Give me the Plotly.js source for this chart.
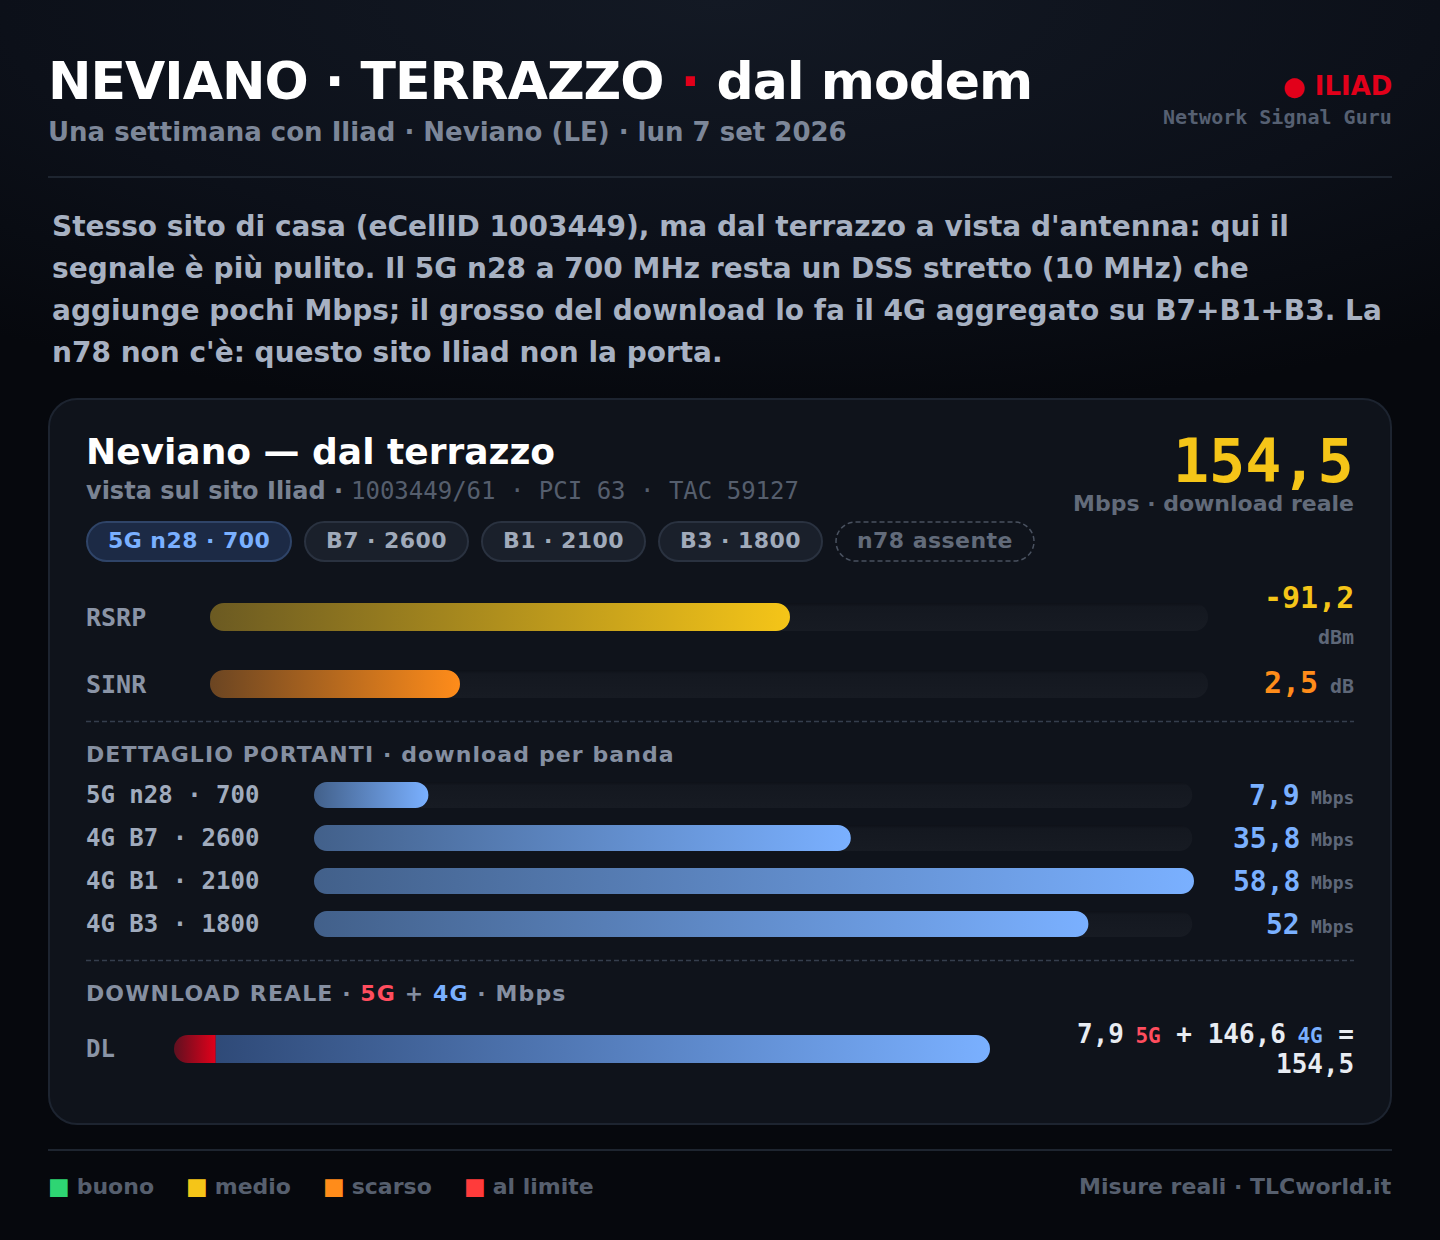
<!DOCTYPE html>
<html lang="it">
<head>
<meta charset="utf-8">
<title>Neviano terrazzo</title>
<script src="https://cdn.plot.ly/plotly-3.0.1.min.js"></script>
<style>
  html, body { margin: 0; padding: 0; }
  body {
    width: 1440px; height: 1240px; overflow: hidden;
    background: radial-gradient(1200px 420px at 50% 0, #131924 0%, #0c1019 60%, #06080d 100%) #06080d;
  }
  #chart { width: 1440px; height: 1240px; }
</style>
</head>
<body>
<div id="chart"></div>
<script>
// values
var signalNames = ['RSRP', 'SINR'];
var signalFill = [58, 25];
var signalValues = [-91.2, 2.5];
var signalUnits = ['dBm', 'dB'];

var carrierNames = ['5G n28 · 700', '4G B7 · 2600', '4G B1 · 2100', '4G B3 · 1800'];
var carrierFill = [13, 61, 100, 88];
var carrierMbps = [7.9, 35.8, 58.8, 52];

var dl5G = 7.9;
var dl4G = 146.6;
var dlTotal = 154.5;

var pills = ['5G n28 · 700', 'B7 · 2600', 'B1 · 2100', 'B3 · 1800', 'n78 assente'];
var paragraph = [
  "Stesso sito di casa (eCellID 1003449), ma dal terrazzo a vista d'antenna: qui il",
  "segnale è più pulito. Il 5G n28 a 700 MHz resta un DSS stretto (10 MHz) che",
  "aggiunge pochi Mbps; il grosso del download lo fa il 4G aggregato su B7+B1+B3. La",
  "n78 non c'è: questo sito Iliad non la porta."
];
var legendNames = ['buono', 'medio', 'scarso', 'al limite'];
var legendColors = ['#2ed573', '#f5c518', '#ff8c1a', '#ff3b3b'];

var W = 1440, H = 1240;
var SANS = '"DejaVu Sans", sans-serif', MONO = '"DejaVu Sans Mono", monospace';
var num = function (v) { return String(v).replace('.', ','); };
var xDom = function (a, b) { return [a / W, b / W]; };
var yDom = function (t, b) { return [1 - b / H, 1 - t / H]; };

function txt(x, y, text, size, color, o) {
  o = o || {};
  return {
    xref: 'paper', yref: 'paper', x: (x + (o.right ? 1 : -1)) / W, y: 1 - y / H, text: text, showarrow: false,
    xanchor: o.right ? 'right' : 'left', yanchor: 'middle', align: o.right ? 'right' : 'left', borderpad: 0,
    font: { family: o.mono ? MONO : SANS, size: size, color: color, weight: o.normal ? 400 : 700 }
  };
}

// rounded box as a paper-space shape
function box(x0, y0, x1, y1, r, fill, line, lw, dash) {
  var k = r * 0.45, X = function (v) { return (v / W).toFixed(5); }, Y = function (v) { return (1 - v / H).toFixed(5); };
  var p = 'M' + X(x0 + r) + ',' + Y(y0) + ' L' + X(x1 - r) + ',' + Y(y0) +
    ' C' + X(x1 - k) + ',' + Y(y0) + ' ' + X(x1) + ',' + Y(y0 + k) + ' ' + X(x1) + ',' + Y(y0 + r) +
    ' L' + X(x1) + ',' + Y(y1 - r) +
    ' C' + X(x1) + ',' + Y(y1 - k) + ' ' + X(x1 - k) + ',' + Y(y1) + ' ' + X(x1 - r) + ',' + Y(y1) +
    ' L' + X(x0 + r) + ',' + Y(y1) +
    ' C' + X(x0 + k) + ',' + Y(y1) + ' ' + X(x0) + ',' + Y(y1 - k) + ' ' + X(x0) + ',' + Y(y1 - r) +
    ' L' + X(x0) + ',' + Y(y0 + r) +
    ' C' + X(x0) + ',' + Y(y0 + k) + ' ' + X(x0 + k) + ',' + Y(y0) + ' ' + X(x0 + r) + ',' + Y(y0) + ' Z';
  return { type: 'path', xref: 'paper', yref: 'paper', path: p, fillcolor: fill, layer: 'below',
    line: { color: line, width: lw, dash: dash || 'solid' } };
}
function rule(x0, x1, y, color, lw, dash) {
  return { type: 'line', xref: 'paper', yref: 'paper', x0: x0 / W, x1: x1 / W, y0: 1 - y / H, y1: 1 - y / H,
    layer: 'below', line: { color: color, width: lw, dash: dash || 'solid' } };
}

function hbar(x, y, xa, ya, width, grad, base) {
  var t = { type: 'bar', orientation: 'h', x: x, y: y, xaxis: xa, yaxis: ya, width: width, hoverinfo: 'skip',
    marker: { color: '#161a22', line: { width: 0 } }, meta: grad };
  if (base !== undefined) t.base = base;
  return t;
}

// the empty rail stops just short of the full scale
var rail = function (a) { return a.map(function () { return 99.8; }); };
var data = [
  hbar(rail(signalNames), signalNames, 'x', 'y', 0.418, 'gTrack'),
  hbar(signalFill, signalNames, 'x', 'y', 0.418, ['gRsrp', 'gSinr']),
  hbar(rail(carrierNames), carrierNames, 'x2', 'y2', 0.605, 'gTrack'),
  hbar(carrierFill, carrierNames, 'x2', 'y2', 0.605, 'gBlue'),
  hbar([dl5G], ['DL'], 'x3', 'y3', 1, 'g5G'),
  hbar([dl4G], ['DL'], 'x3', 'y3', 1, 'g4G', [dl5G])
];

var hidden = { visible: false, fixedrange: true };
var ax = function (extra) { return Object.assign({}, hidden, extra); };

var shapes = [
  rule(48, 1392, 177, '#1e2530', 2),
  rule(48, 1392, 1150, '#1e2530', 2),
  box(49, 399, 1391, 1124, 28, '#0f131b', '#1d2430', 2),
  rule(86, 1354, 721.5, '#353e4d', 1.5, '5px,3px'),
  rule(86, 1354, 960.5, '#353e4d', 1.5, '5px,3px')
];
var pillX = [[87, 291], [305, 468], [482, 645], [659, 822], [836, 1034]];
var pillTextX = [108, 326, 503, 680, 857];
pills.forEach(function (p, i) {
  if (i === 0) shapes.push(box(pillX[i][0], 522, pillX[i][1], 561, 19.5, '#1c2a45', '#2f4468', 2));
  else if (i === 4) shapes.push(box(pillX[i][0], 522, pillX[i][1], 561, 19.5, 'rgba(0,0,0,0)', '#4a5260', 1.5, '5px,3px'));
  else shapes.push(box(pillX[i][0], 522, pillX[i][1], 561, 19.5, '#1a202b', '#2a3240', 2));
});

var spaced = function (s, v) { return '<span style="letter-spacing:' + v + 'px">' + s + '</span>'; };
var thin = '<span style="font-size:19px"> </span>';
var UNIT = '#5e6778', HEAD = '#858fa1', SUB = '#7d8799';
var ann = [
  txt(48, 81, spaced('NEVIANO · TERRAZZO <span style="color:#e2001a">·</span> dal modem', -1), 52, '#ffffff'),
  txt(48, 132, 'Una settimana con Iliad · Neviano (LE) · lun 7 set 2026', 26, SUB),
  txt(1392, 86, '● ILIAD', 26, '#e2001a', { right: true }),
  txt(1392, 117, 'Network Signal Guru', 20, '#566072', { right: true, mono: true }),
  txt(86, 451, 'Neviano — dal terrazzo', 36, '#ffffff'),
  txt(86, 491, 'vista sul sito Iliad ·', 24, '#7a8393'),
  txt(351, 491, '1003449/61 · PCI 63 · TAC 59127', 24, '#555e6d', { mono: true, normal: true }),
  txt(1354, 461, num(dlTotal), 60, '#f5c518', { right: true, mono: true }),
  txt(1354, 503, 'Mbps · download reale', 22, '#626b7a', { right: true }),
  txt(86, 754, spaced('DETTAGLIO PORTANTI · download per banda', 1.1), 22, HEAD),
  txt(86, 993, spaced('DOWNLOAD REALE · <span style="color:#ff4d5e">5G</span> + <span style="color:#7ab0ff">4G</span> · Mbps', 1.1), 22, HEAD),
  txt(86, 1049, 'DL', 24, '#8a94a6', { mono: true }),
  txt(1354, 1034, num(dl5G) + thin + '<span style="font-size:21px;color:#ff4d5e">5G</span> + ' + num(dl4G) + thin +
    '<span style="font-size:21px;color:#7ab0ff">4G</span> =', 26, '#e8ecf2', { right: true, mono: true }),
  txt(1354, 1064, num(dlTotal), 26, '#e8ecf2', { right: true, mono: true }),
  txt(1392, 1186, 'Misure reali · TLCworld.it', 22, '#565f6e', { right: true })
];
paragraph.forEach(function (l, i) { ann.push(txt(52, 226.4 + i * 42, l, 28, '#a7b1c2')); });
pills.forEach(function (p, i) {
  var c = i === 0 ? '#7ab0ff' : (i === 4 ? '#626b7a' : '#a0aaba');
  ann.push(txt(pillTextX[i], 540, spaced(p, 0.44), 22, c));
});
signalNames.forEach(function (n, i) { ann.push(txt(86, 617 + i * 67, n, 25, '#8a94a6', { mono: true })); });
ann.push(txt(1354, 598, num(signalValues[0]), 30, '#f5c518', { right: true, mono: true }));
ann.push(txt(1354, 637, signalUnits[0], 20, UNIT, { right: true, mono: true }));
ann.push(txt(1318, 682.5, num(signalValues[1]), 30, '#ff8c1a', { right: true, mono: true }));
ann.push(txt(1354, 686, signalUnits[1], 20, UNIT, { right: true, mono: true }));
carrierNames.forEach(function (n, i) {
  var y = 795 + i * 43;
  ann.push(txt(86, y, n, 24, '#a0abbd', { mono: true }));
  ann.push(txt(1300, y, num(carrierMbps[i]), 28, '#7ab0ff', { right: true, mono: true }));
  ann.push(txt(1354, y + 2, 'Mbps', 18, UNIT, { right: true, mono: true }));
});
var legendX = [48, 186, 323, 464];
var legendGap = '<span style="font-size:20px"> </span>';
legendNames.forEach(function (n, i) {
  ann.push(txt(legendX[i], 1186, '<span style="font-size:23px;color:' + legendColors[i] + '">■</span>' + legendGap + n, 22, '#565f6e'));
});

var layout = {
  width: W, height: H, margin: { l: 0, r: 0, t: 0, b: 0 },
  paper_bgcolor: 'rgba(0,0,0,0)', plot_bgcolor: 'rgba(0,0,0,0)',
  barmode: 'overlay', showlegend: false,
  xaxis: ax({ domain: xDom(210, 1210), range: [0, 100] }),
  yaxis: ax({ domain: yDom(583.5, 717.5), type: 'category', autorange: 'reversed' }),
  xaxis2: ax({ domain: xDom(314, 1194), range: [0, 100] }),
  yaxis2: ax({ domain: yDom(773.5, 945.5), type: 'category', autorange: 'reversed' }),
  xaxis3: ax({ domain: xDom(174, 990), range: [0, dlTotal] }),
  yaxis3: ax({ domain: yDom(1035, 1063), type: 'category' }),
  shapes: shapes,
  annotations: ann
};

// bar fills: Plotly has no gradient for bars, so they go into the svg defs afterwards
var gradients = {
  gRsrp: ['#6b5a22', '#f5c518'],
  gSinr: ['#6b4522', '#ff8c1a'],
  gBlue: ['#42608a', '#7ab0ff'],
  g5G: ['#5f1020', '#e2001a'],
  g4G: ['#2f4a78', '#7ab0ff']
};

function addDefs(gd) {
  var NS = 'http://www.w3.org/2000/svg', defs = gd.querySelector('svg.main-svg defs');
  function grad(id, stops, vertical) {
    var g = document.createElementNS(NS, 'linearGradient');
    g.setAttribute('id', id);
    g.setAttribute('x2', vertical ? '0' : '1');
    g.setAttribute('y2', vertical ? '1' : '0');
    stops.forEach(function (s) {
      var st = document.createElementNS(NS, 'stop');
      st.setAttribute('offset', s[0]);
      st.setAttribute('stop-color', s[1]);
      g.appendChild(st);
    });
    defs.appendChild(g);
  }
  Object.keys(gradients).forEach(function (k) { grad(k, [[0, gradients[k][0]], [1, gradients[k][1]]]); });
  grad('gTrack', [[0, '#0e1118'], [0.14, '#141820'], [1, '#171b23']], true);
}

// bars get both ends rounded, except where the two DL segments meet
function rounded(b, rl, rr) {
  var x0 = b.x, x1 = b.x + b.width, y0 = b.y, y1 = b.y + b.height;
  var arc = function (r, x, y) { return 'A' + r + ',' + r + ' 0 0 1 ' + x + ',' + y; };
  return ['M', x0 + rl, ',', y0, 'L', x1 - rr, ',', y0, rr ? arc(rr, x1, y0 + rr) : '', 'L', x1, ',', y1 - rr,
    rr ? arc(rr, x1 - rr, y1) : '', 'L', x0 + rl, ',', y1, rl ? arc(rl, x0, y1 - rl) : '', 'L', x0, ',', y0 + rl,
    rl ? arc(rl, x0 + rl, y0) : '', 'Z'].join(' ');
}

Plotly.newPlot('chart', data, layout, { staticPlot: true, displayModeBar: false }).then(function (gd) {
  addDefs(gd);
  gd.querySelectorAll('.trace.bars').forEach(function (tr) {
    var trace = tr.__data__[0].trace;
    tr.querySelectorAll('.point path').forEach(function (path, i) {
      var id = Array.isArray(trace.meta) ? trace.meta[i] : trace.meta;
      var b = path.getBBox(), r = b.height / 2;
      path.setAttribute('d', rounded(b, id === 'g4G' ? 0 : r, id === 'g5G' ? 0 : r));
      path.style.fill = 'url(#' + id + ')';
    });
  });
});
</script>
</body>
</html>
